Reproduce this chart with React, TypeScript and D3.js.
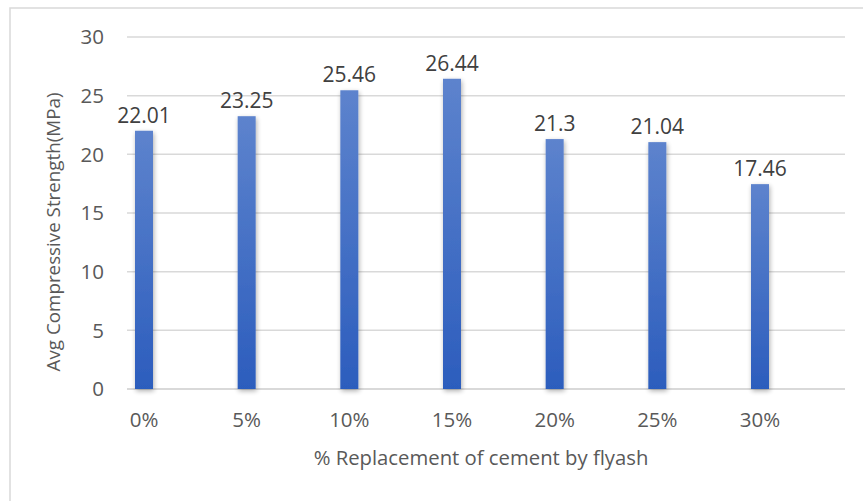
import React from "react";
import * as d3 from "d3";

const categories = ["0%", "5%", "10%", "15%", "20%", "25%", "30%"];
const strengths = [22.01, 23.25, 25.46, 26.44, 21.3, 21.04, 17.46];
const yTicks = [0, 5, 10, 15, 20, 25, 30];
const yTitle = "Avg Compressive Strength(MPa)";
const xTitle = "% Replacement of cement by flyash";

const W = 863;
const H = 501;
const FONT = "'Open Sans', 'DejaVu Sans', sans-serif";
const TEXT = "#595959";

export default function App() {
  const y = d3.scaleLinear().domain([0, 30]).range([389, 37]);
  const x = d3.scalePoint<string>().domain(categories).range([144, 760]);
  const gridX0 = 127;
  const gridX1 = 845;
  const barW = 18;

  return (
    <svg
      width={W}
      height={H}
      style={{ position: "absolute", left: 0, top: 0, background: "#fff" }}
    >
      <defs>
        <linearGradient id="barFill" x1="0" y1="0" x2="0" y2="1">
          <stop offset="0" stopColor="#5d83cd" />
          <stop offset="1" stopColor="#2c5dbd" />
        </linearGradient>
        <filter id="barShadow" x="-80%" y="-10%" width="260%" height="120%">
          <feGaussianBlur in="SourceAlpha" stdDeviation="2.6" />
          <feOffset dx="1" dy="1.5" result="b" />
          <feComponentTransfer>
            <feFuncA type="linear" slope="0.32" />
          </feComponentTransfer>
          <feMerge>
            <feMergeNode />
            <feMergeNode in="SourceGraphic" />
          </feMerge>
        </filter>
      </defs>

      {/* chart frame */}
      <rect x={10} y={8} width={W} height={H} fill="none" stroke="#d9d9d9" strokeWidth={1.5} />

      {/* gridlines */}
      {yTicks.map((t) => (
        <line
          key={"g" + t}
          x1={gridX0}
          x2={gridX1}
          y1={y(t)}
          y2={y(t)}
          stroke="#d9d9d9"
          strokeWidth={t === 0 ? 2 : 1.5}
        />
      ))}

      {/* y tick labels */}
      {yTicks.map((t) => (
        <text
          key={"yt" + t}
          x={104}
          y={y(t)}
          dy="0.35em"
          textAnchor="end"
          fontFamily={FONT}
          fontSize={20.5}
          fill={TEXT}
        >
          {t}
        </text>
      ))}

      {/* bars */}
      {categories.map((c, i) => (
        <rect
          key={"b" + c}
          x={(x(c) as number) - barW / 2}
          y={y(strengths[i])}
          width={barW}
          height={y(0) - y(strengths[i])}
          fill="url(#barFill)"
          filter="url(#barShadow)"
        />
      ))}

      {/* value labels */}
      {categories.map((c, i) => (
        <text
          key={"v" + c}
          x={x(c) as number}
          y={y(strengths[i]) - 8}
          textAnchor="middle"
          fontFamily={FONT}
          fontSize={21}
          fill="#404040"
        >
          {strengths[i]}
        </text>
      ))}

      {/* x tick labels */}
      {categories.map((c) => (
        <text
          key={"xt" + c}
          x={x(c) as number}
          y={420}
          dy="0.35em"
          textAnchor="middle"
          fontFamily={FONT}
          fontSize={20.5}
          fill={TEXT}
        >
          {c}
        </text>
      ))}

      {/* axis titles */}
      <text
        x={481}
        y={458}
        dy="0.35em"
        textAnchor="middle"
        fontFamily={FONT}
        fontSize={20.3}
        fill={TEXT}
      >
        {xTitle}
      </text>
      <text
        transform={`translate(53,232) rotate(-90)`}
        dy="0.35em"
        textAnchor="middle"
        fontFamily={FONT}
        fontSize={18.8}
        fill={TEXT}
      >
        {yTitle}
      </text>
    </svg>
  );
}
